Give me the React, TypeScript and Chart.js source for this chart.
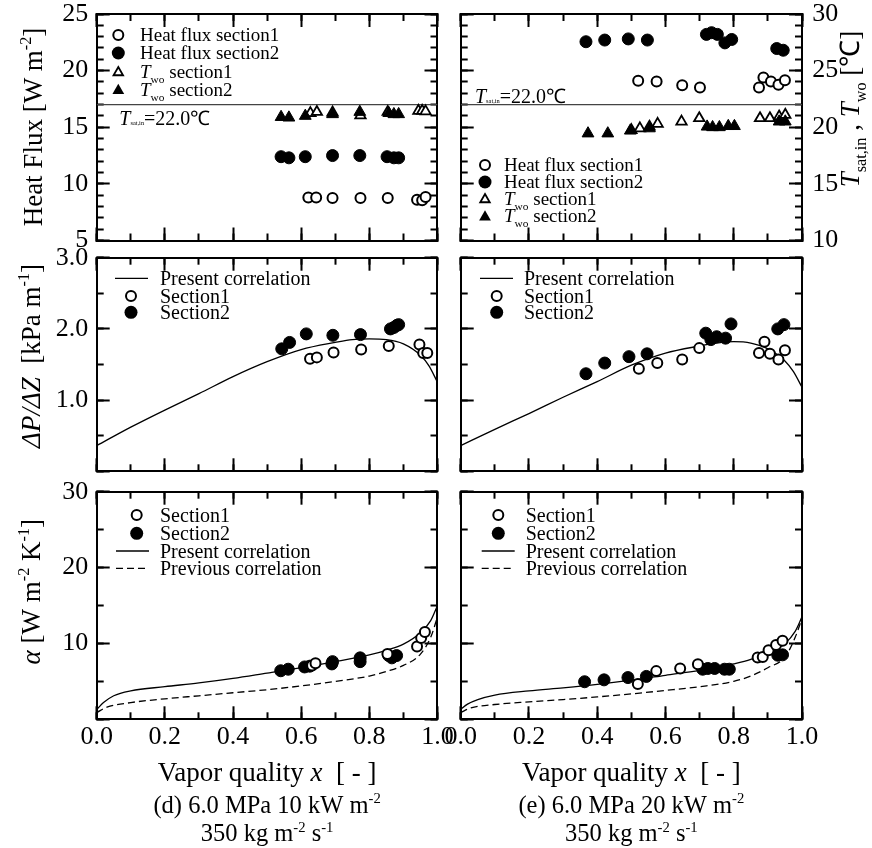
import React, { useEffect, useRef } from "react";
import { Chart, registerables } from "chart.js";

Chart.register(...registerables);

type Pt = [number, number];

const FONT = "'Liberation Serif', 'Times New Roman', Times, serif";
const W = 872;
const H = 848;

/* ---------------- tick labels ---------------- */
const xTickLabels = ["0.0", "0.2", "0.4", "0.6", "0.8", "1.0"];
const heatFluxTickLabels = ["5", "10", "15", "20", "25"];
const tempTickLabels = ["10", "15", "20", "25", "30"];
const dpTickLabels = ["1.0", "2.0", "3.0"];
const alphaTickLabels = ["10", "20", "30"];

const tSatIn = 22.0;

/* ---------------- (d) 6.0 MPa 10 kW m-2 ---------------- */
const dHeatFlux1: Pt[] = [[0.621, 8.8], [0.644, 8.8], [0.692, 8.75], [0.774, 8.75], [0.854, 8.75], [0.94, 8.6], [0.955, 8.55], [0.965, 8.85]];
const dHeatFlux2: Pt[] = [[0.541, 12.4], [0.564, 12.3], [0.612, 12.4], [0.692, 12.5], [0.772, 12.5], [0.852, 12.4], [0.872, 12.3], [0.886, 12.3]];
const dTwo1: Pt[] = [[0.627, 21.25], [0.646, 21.35], [0.692, 21.3], [0.774, 21.05], [0.854, 21.35], [0.944, 21.45], [0.955, 21.45], [0.965, 21.4]];
const dTwo2: Pt[] = [[0.541, 20.9], [0.564, 20.85], [0.612, 21.0], [0.692, 21.15], [0.772, 21.35], [0.857, 21.25], [0.872, 21.15], [0.886, 21.15]];

const dDp1: Pt[] = [[0.626, 1.58], [0.646, 1.6], [0.695, 1.67], [0.776, 1.71], [0.857, 1.76], [0.947, 1.78], [0.958, 1.66], [0.97, 1.66]];
const dDp2: Pt[] = [[0.543, 1.72], [0.566, 1.81], [0.615, 1.93], [0.693, 1.91], [0.774, 1.92], [0.862, 2.0], [0.872, 2.02], [0.881, 2.05], [0.886, 2.06]];
const dDpPresent: Pt[] = [[0, 0.36], [0.1, 0.62], [0.2, 0.86], [0.3, 1.09], [0.4, 1.33], [0.5, 1.54], [0.6, 1.71], [0.7, 1.81], [0.75, 1.85], [0.8, 1.86], [0.85, 1.85], [0.9, 1.79], [0.95, 1.63], [0.975, 1.48], [1.0, 1.25]];

const dAlpha1: Pt[] = [[0.632, 7.1], [0.642, 7.4], [0.853, 8.6], [0.94, 9.6], [0.952, 10.7], [0.963, 11.5]];
const dAlpha2: Pt[] = [[0.54, 6.4], [0.562, 6.6], [0.61, 6.9], [0.625, 7.0], [0.69, 7.3], [0.692, 7.6], [0.773, 7.6], [0.773, 8.1], [0.857, 8.4], [0.866, 8.1], [0.88, 8.4]];
const dAlphaPresent: Pt[] = [[0, 1.3], [0.02, 2.2], [0.05, 3.1], [0.1, 3.75], [0.2, 4.3], [0.3, 4.8], [0.4, 5.4], [0.5, 6.1], [0.6, 6.8], [0.7, 7.6], [0.8, 8.5], [0.85, 9.1], [0.9, 9.9], [0.95, 11.4], [0.98, 13.0], [1.0, 15.0]];
const dAlphaPrevious: Pt[] = [[0, 0.9], [0.03, 1.6], [0.1, 2.2], [0.2, 2.7], [0.3, 3.1], [0.4, 3.5], [0.5, 3.9], [0.6, 4.4], [0.7, 5.0], [0.8, 5.7], [0.85, 6.3], [0.9, 7.1], [0.95, 8.6], [0.98, 10.8], [1.0, 13.5]];

/* ---------------- (e) 6.0 MPa 20 kW m-2 ---------------- */
const eHeatFlux1: Pt[] = [[0.52, 19.1], [0.574, 19.05], [0.649, 18.7], [0.701, 18.5], [0.874, 18.5], [0.887, 19.4], [0.909, 19.05], [0.931, 18.75], [0.95, 19.15]];
const eHeatFlux2: Pt[] = [[0.367, 22.55], [0.422, 22.7], [0.491, 22.8], [0.547, 22.7], [0.72, 23.2], [0.735, 23.35], [0.752, 23.2], [0.774, 22.45], [0.794, 22.75], [0.926, 21.95], [0.945, 21.8]];
const eTwo1: Pt[] = [[0.5, 19.75], [0.525, 19.9], [0.553, 20.05], [0.577, 20.3], [0.647, 20.5], [0.699, 20.8], [0.877, 20.8], [0.906, 20.8], [0.933, 20.95], [0.951, 21.1]];
const eTwo2: Pt[] = [[0.373, 19.45], [0.431, 19.45], [0.497, 19.7], [0.553, 19.9], [0.722, 20.05], [0.738, 20.0], [0.758, 20.0], [0.784, 20.1], [0.802, 20.1], [0.933, 20.5], [0.951, 20.5]];

const eDp1: Pt[] = [[0.522, 1.44], [0.576, 1.52], [0.649, 1.57], [0.699, 1.73], [0.874, 1.66], [0.89, 1.82], [0.906, 1.65], [0.931, 1.57], [0.95, 1.7]];
const eDp2: Pt[] = [[0.367, 1.37], [0.422, 1.52], [0.493, 1.61], [0.546, 1.65], [0.718, 1.94], [0.733, 1.85], [0.75, 1.89], [0.776, 1.87], [0.792, 2.07], [0.929, 2.0], [0.947, 2.06]];
const eDpPresent: Pt[] = [[0, 0.36], [0.1, 0.59], [0.2, 0.81], [0.3, 1.04], [0.4, 1.26], [0.5, 1.49], [0.6, 1.66], [0.7, 1.76], [0.75, 1.8], [0.8, 1.82], [0.85, 1.8], [0.9, 1.72], [0.95, 1.55], [0.975, 1.4], [1.0, 1.18]];

const eAlpha1: Pt[] = [[0.519, 4.65], [0.573, 6.35], [0.643, 6.7], [0.695, 7.25], [0.87, 8.15], [0.885, 8.2], [0.902, 9.1], [0.924, 9.8], [0.943, 10.35]];
const eAlpha2: Pt[] = [[0.363, 4.95], [0.42, 5.2], [0.49, 5.5], [0.544, 5.65], [0.709, 6.6], [0.724, 6.7], [0.744, 6.7], [0.773, 6.6], [0.787, 6.6], [0.929, 8.45], [0.943, 8.5]];
const eAlphaPresent: Pt[] = [[0, 1.3], [0.02, 2.0], [0.05, 2.6], [0.1, 3.2], [0.2, 3.75], [0.3, 4.15], [0.4, 4.6], [0.5, 5.15], [0.6, 5.8], [0.7, 6.45], [0.8, 7.3], [0.85, 7.9], [0.9, 8.9], [0.95, 10.0], [0.98, 11.6], [1.0, 13.5]];
const eAlphaPrevious: Pt[] = [[0, 0.9], [0.03, 1.5], [0.1, 1.95], [0.2, 2.3], [0.3, 2.6], [0.4, 2.95], [0.5, 3.35], [0.6, 3.8], [0.7, 4.3], [0.8, 5.0], [0.85, 5.7], [0.9, 6.8], [0.95, 8.2], [0.98, 10.8], [1.0, 13.3]];

/* ---------------- layout (page pixels) ---------------- */
const COLS = [
  { left: 96.7, right: 437.5 },
  { left: 460.7, right: 802 },
];
const ROWS = [
  { top: 14, bottom: 240.5 },
  { top: 257.7, bottom: 471.3 },
  { top: 491.7, bottom: 719.3 },
];
const LEFT_BOX = 80;
const RIGHT_BOX = 60;
const BOTTOM_BOX = 45;

type Seg = { t: string; it?: boolean; sub?: boolean; sup?: boolean; k?: number; dy?: number };
type RText = { x: number; y: number; size: number; segs: Seg[]; align?: "left" | "center"; rot?: boolean };
type LegendItem = { mk: "oc" | "fc" | "ot" | "ft" | "line" | "dash"; mx: number; my: number; tx: number; size: number; segs: Seg[] };

function drawRich(ctx: CanvasRenderingContext2D, r: RText) {
  ctx.save();
  ctx.translate(r.x, r.y);
  if (r.rot) ctx.rotate(-Math.PI / 2);
  ctx.fillStyle = "#000";
  ctx.textBaseline = "alphabetic";
  ctx.textAlign = "left";
  const parts = r.segs.map((s) => {
    const size = s.sub || s.sup ? r.size * (s.k ?? 0.6) : r.size;
    const font = `${s.it ? "italic " : ""}${size}px ${FONT}`;
    ctx.font = font;
    const dy = s.dy !== undefined ? s.dy : s.sub ? r.size * 0.25 : s.sup ? -r.size * 0.4 : 0;
    return { s, font, w: ctx.measureText(s.t).width, dy };
  });
  const total = parts.reduce((a, p) => a + p.w, 0);
  let x = r.align === "center" ? -total / 2 : 0;
  const base = r.size * 0.33;
  for (const p of parts) {
    ctx.font = p.font;
    ctx.fillText(p.s.t, x, base + p.dy);
    x += p.w;
  }
  ctx.restore();
}

function triPath(ctx: CanvasRenderingContext2D, x: number, y: number, r: number) {
  ctx.beginPath();
  for (let i = 0; i < 3; i++) {
    const a = (i * 2 * Math.PI) / 3;
    const px = x + Math.sin(a) * r;
    const py = y - Math.cos(a) * r;
    if (i === 0) ctx.moveTo(px, py);
    else ctx.lineTo(px, py);
  }
  ctx.closePath();
}

function drawMarker(ctx: CanvasRenderingContext2D, it: LegendItem) {
  const { mx: x, my: y } = it;
  ctx.save();
  ctx.strokeStyle = "#000";
  ctx.fillStyle = "#000";
  if (it.mk === "oc") {
    ctx.lineWidth = 2;
    ctx.beginPath();
    ctx.arc(x, y, 5, 0, Math.PI * 2);
    ctx.fillStyle = "#fff";
    ctx.fill();
    ctx.stroke();
  } else if (it.mk === "fc") {
    ctx.beginPath();
    ctx.arc(x, y, 6.5, 0, Math.PI * 2);
    ctx.fill();
  } else if (it.mk === "ot") {
    ctx.lineWidth = 1.8;
    triPath(ctx, x, y + 1, 5.5);
    ctx.fillStyle = "#fff";
    ctx.fill();
    ctx.stroke();
  } else if (it.mk === "ft") {
    triPath(ctx, x, y + 1, 6.8);
    ctx.fill();
  } else {
    ctx.lineWidth = 1.3;
    if (it.mk === "dash") ctx.setLineDash([7, 4]);
    ctx.beginPath();
    ctx.moveTo(x, y);
    ctx.lineTo(x + 33, y);
    ctx.stroke();
  }
  ctx.restore();
  drawRich(ctx, { x: it.tx, y: it.my, size: it.size, segs: it.segs });
}

function labelFor(v: number, labels: string[] | null) {
  if (!labels) return "";
  const f = labels.find((l) => Math.abs(parseFloat(l) - v) < 1e-6);
  return f ?? "";
}

function axis(position: string, min: number, max: number, step: number, tickLen: number, labels: string[] | null, border: boolean, pad: number, boxSize: number, weight: number) {
  return {
    type: "linear",
    position,
    min,
    max,
    weight,
    afterFit: (s: any) => {
      if (s.isHorizontal()) s.height = boxSize;
      else s.width = boxSize;
      s.paddingLeft = 0;
      s.paddingRight = 0;
      s.paddingTop = 0;
      s.paddingBottom = 0;
    },
    ticks: {
      stepSize: step,
      autoSkip: false,
      maxRotation: 0,
      minRotation: 0,
      display: !!labels,
      padding: pad,
      color: "#000",
      font: { family: FONT, size: 26 },
      callback: (v: any) => labelFor(Number(v), labels),
    },
    grid: {
      display: true,
      drawOnChartArea: false,
      drawTicks: true,
      tickLength: -tickLen,
      tickWidth: 2,
      tickColor: "#000",
    },
    border: { display: border, color: "#000", width: 2 },
  };
}

type AxisSpec = { min: number; max: number; major: number; minor: number; labels: string[] | null };

type PanelDef = {
  col: number;
  row: number;
  datasets: any[];
  yLeft: AxisSpec;
  yRight: AxisSpec;
  xLabels: boolean;
  texts: RText[];
  legend: LegendItem[];
};

const openCircle = { pointStyle: "circle", pointRadius: 5, pointBorderWidth: 2, pointBackgroundColor: "#fff", pointBorderColor: "#000" };
const filledCircle = { pointStyle: "circle", pointRadius: 6, pointBorderWidth: 1, pointBackgroundColor: "#000", pointBorderColor: "#000" };
const openTri = { pointStyle: "triangle", pointRadius: 6, pointBorderWidth: 1.8, pointBackgroundColor: "#fff", pointBorderColor: "#000" };
const filledTri = { pointStyle: "triangle", pointRadius: 6.8, pointBorderWidth: 1, pointBackgroundColor: "#000", pointBorderColor: "#000" };

const toXY = (p: Pt[]) => p.map(([x, y]) => ({ x, y }));

function scatterDs(label: string, pts: Pt[], style: any, yAxisID: string, order: number) {
  return { label, data: toXY(pts), yAxisID, order, showLine: false, ...style };
}
function lineDs(label: string, pts: Pt[], yAxisID: string, order: number, dash: number[] = [], color = "#000", width = 1.3) {
  return {
    label,
    data: toXY(pts),
    yAxisID,
    order,
    showLine: true,
    pointRadius: 0,
    borderColor: color,
    borderWidth: width,
    borderDash: dash,
    cubicInterpolationMode: "monotone",
    fill: false,
  };
}

const T_seg = (sub: string): Seg[] => [{ t: "T", it: true }, { t: sub, sub: true }];

function buildPanels(): PanelDef[] {
  const cols = [
    { hf1: dHeatFlux1, hf2: dHeatFlux2, tw1: dTwo1, tw2: dTwo2, dp1: dDp1, dp2: dDp2, dpc: dDpPresent, a1: dAlpha1, a2: dAlpha2, ap: dAlphaPresent, aq: dAlphaPrevious, cap: "(d) 6.0 MPa 10 kW m" },
    { hf1: eHeatFlux1, hf2: eHeatFlux2, tw1: eTwo1, tw2: eTwo2, dp1: eDp1, dp2: eDp2, dpc: eDpPresent, a1: eAlpha1, a2: eAlpha2, ap: eAlphaPresent, aq: eAlphaPrevious, cap: "(e) 6.0 MPa 20 kW m" },
  ];
  const out: PanelDef[] = [];
  cols.forEach((d, c) => {
    const cx = (COLS[c].left + COLS[c].right) / 2;
    const tsat: Pt[] = [[0, tSatIn], [1, tSatIn]];
    const tsatText: Seg[] = [{ t: "T", it: true }, { t: "sat,in", sub: true, k: 0.32, dy: 0 }, { t: `=${tSatIn.toFixed(1)}℃` }];

    // ---- row 0: heat flux / wall temperature ----
    const lg0 = c === 0 ? { mx: 118.3, tx: 140, ys: [35, 53, 71.5, 89.5] } : { mx: 485, tx: 504, ys: [165, 182, 198.5, 216] };
    const texts0: RText[] = [];
    if (c === 0) {
      texts0.push({ x: 33, y: 127, size: 27, rot: true, align: "center", segs: [{ t: "Heat Flux [W m" }, { t: "-2", sup: true }, { t: "]" }] });
      texts0.push({ x: 119.3, y: 118.3, size: 20, segs: tsatText });
    } else {
      texts0.push({ x: 475, y: 96.7, size: 20, segs: tsatText });
      texts0.push({
        x: 850,
        y: 109,
        size: 27,
        rot: true,
        align: "center",
        segs: [...T_seg("sat,in"), { t: " , " }, ...T_seg("wo"), { t: " [℃]" }],
      });
    }
    out.push({
      col: c,
      row: 0,
      datasets: [
        lineDs("Tsat,in", tsat, "yr", 5, [], "#444", 1.1),
        scatterDs("Heat flux section1", d.hf1, openCircle, "y", 2),
        scatterDs("Heat flux section2", d.hf2, filledCircle, "y", 1),
        scatterDs("Two section1", d.tw1, openTri, "yr", 2),
        scatterDs("Two section2", d.tw2, filledTri, "yr", 1),
      ],
      yLeft: { min: 5, max: 25, major: 5, minor: 1, labels: c === 0 ? heatFluxTickLabels : null },
      yRight: { min: 10, max: 30, major: 5, minor: 1, labels: c === 1 ? tempTickLabels : null },
      xLabels: false,
      texts: texts0,
      legend: [
        { mk: "oc", mx: lg0.mx, my: lg0.ys[0], tx: lg0.tx, size: 19, segs: [{ t: "Heat flux section1" }] },
        { mk: "fc", mx: lg0.mx, my: lg0.ys[1], tx: lg0.tx, size: 19, segs: [{ t: "Heat flux section2" }] },
        { mk: "ot", mx: lg0.mx, my: lg0.ys[2], tx: lg0.tx, size: 19, segs: [...T_seg("wo"), { t: " section1" }] },
        { mk: "ft", mx: lg0.mx, my: lg0.ys[3], tx: lg0.tx, size: 19, segs: [...T_seg("wo"), { t: " section2" }] },
      ],
    });

    // ---- row 1: pressure drop ----
    const lg1 = c === 0 ? { lx: 115, mx: 131, tx: 160 } : { lx: 480, mx: 496.7, tx: 524 };
    const texts1: RText[] = [];
    if (c === 0) {
      texts1.push({
        x: 31,
        y: 356,
        size: 27,
        rot: true,
        align: "center",
        segs: [{ t: "ΔP/ΔZ", it: true }, { t: "  [kPa m" }, { t: "-1", sup: true }, { t: "]" }],
      });
    }
    out.push({
      col: c,
      row: 1,
      datasets: [
        lineDs("Present correlation", d.dpc, "y", 5),
        scatterDs("Section1", d.dp1, openCircle, "y", 1),
        scatterDs("Section2", d.dp2, filledCircle, "y", 2),
      ],
      yLeft: { min: 0, max: 3, major: 1, minor: 0.5, labels: c === 0 ? dpTickLabels : null },
      yRight: { min: 0, max: 3, major: 1, minor: 0.5, labels: null },
      xLabels: false,
      texts: texts1,
      legend: [
        { mk: "line", mx: lg1.lx, my: 278.3, tx: lg1.tx, size: 20, segs: [{ t: "Present correlation" }] },
        { mk: "oc", mx: lg1.mx, my: 296, tx: lg1.tx, size: 20, segs: [{ t: "Section1" }] },
        { mk: "fc", mx: lg1.mx, my: 312.3, tx: lg1.tx, size: 20, segs: [{ t: "Section2" }] },
      ],
    });

    // ---- row 2: heat transfer coefficient ----
    const lg2 = c === 0 ? { lx: 116, mx: 136.7, tx: 160 } : { lx: 481.7, mx: 498.3, tx: 525.7 };
    const texts2: RText[] = [
      { x: cx, y: 771.7, size: 27, align: "center", segs: [{ t: "Vapor quality " }, { t: "x", it: true }, { t: "  [ - ]" }] },
      { x: cx, y: 805, size: 24.5, align: "center", segs: [{ t: d.cap }, { t: "-2", sup: true }] },
      { x: cx, y: 833.3, size: 24.5, align: "center", segs: [{ t: "350 kg m" }, { t: "-2", sup: true }, { t: " s" }, { t: "-1", sup: true }] },
    ];
    if (c === 0) {
      texts2.push({
        x: 31,
        y: 591.7,
        size: 27,
        rot: true,
        align: "center",
        segs: [{ t: "α", it: true }, { t: " [W m" }, { t: "-2", sup: true }, { t: " K" }, { t: "-1", sup: true }, { t: "]" }],
      });
    }
    out.push({
      col: c,
      row: 2,
      datasets: [
        lineDs("Present correlation", d.ap, "y", 5),
        lineDs("Previous correlation", d.aq, "y", 5, [7, 4]),
        scatterDs("Section1", d.a1, openCircle, "y", 1),
        scatterDs("Section2", d.a2, filledCircle, "y", 2),
      ],
      yLeft: { min: 0, max: 30, major: 10, minor: 5, labels: c === 0 ? alphaTickLabels : null },
      yRight: { min: 0, max: 30, major: 10, minor: 5, labels: null },
      xLabels: true,
      texts: texts2,
      legend: [
        { mk: "oc", mx: lg2.mx, my: 515, tx: lg2.tx, size: 20, segs: [{ t: "Section1" }] },
        { mk: "fc", mx: lg2.mx, my: 533.3, tx: lg2.tx, size: 20, segs: [{ t: "Section2" }] },
        { mk: "line", mx: lg2.lx, my: 551, tx: lg2.tx, size: 20, segs: [{ t: "Present correlation" }] },
        { mk: "dash", mx: lg2.lx, my: 568.3, tx: lg2.tx, size: 20, segs: [{ t: "Previous correlation" }] },
      ],
    });
  });
  return out;
}

const PANELS = buildPanels();

function buildConfig(p: PanelDef): any {
  const c = COLS[p.col];
  const r = ROWS[p.row];
  const yl = p.yLeft;
  const yr = p.yRight;
  return {
    type: "scatter",
    data: { datasets: p.datasets },
    options: {
      animation: false,
      responsive: false,
      maintainAspectRatio: false,
      devicePixelRatio: 1,
      events: [],
      layout: {
        autoPadding: false,
        padding: { left: c.left - LEFT_BOX, right: W - c.right - RIGHT_BOX, top: r.top, bottom: H - r.bottom - BOTTOM_BOX },
      },
      plugins: { legend: { display: false }, tooltip: { enabled: false } },
      scales: {
        x: axis("bottom", 0, 1, 0.2, 13, p.xLabels ? xTickLabels : null, true, 15, BOTTOM_BOX, 1),
        xm: axis("bottom", 0, 1, 0.1, 7, null, false, 0, 0, 0),
        xt: axis("top", 0, 1, 0.2, 13, null, true, 0, 0, 1),
        xtm: axis("top", 0, 1, 0.1, 7, null, false, 0, 0, 0),
        y: axis("left", yl.min, yl.max, yl.major, 13, yl.labels, true, 21.4, LEFT_BOX, 1),
        ym: axis("left", yl.min, yl.max, yl.minor, 7, null, false, 0, 0, 0),
        yr: axis("right", yr.min, yr.max, yr.major, 13, yr.labels, true, 23.3, RIGHT_BOX, 1),
        yrm: axis("right", yr.min, yr.max, yr.minor, 7, null, false, 0, 0, 0),
      },
    },
    plugins: [
      {
        id: "annotations",
        afterDraw(chart: any) {
          const ctx = chart.ctx as CanvasRenderingContext2D;
          p.legend.forEach((it) => drawMarker(ctx, it));
          p.texts.forEach((t) => drawRich(ctx, t));
        },
      },
    ],
  };
}

export default function App() {
  const refs = useRef<(HTMLCanvasElement | null)[]>([]);
  useEffect(() => {
    const charts = PANELS.map((p, i) => new Chart(refs.current[i] as HTMLCanvasElement, buildConfig(p)));
    return () => charts.forEach((ch) => ch.destroy());
  }, []);
  return (
    <div style={{ position: "absolute", left: 0, top: 0, width: W, height: H, background: "#fff" }}>
      {PANELS.map((_, i) => (
        <canvas
          key={i}
          ref={(el) => {
            refs.current[i] = el;
          }}
          width={W}
          height={H}
          style={{ position: "absolute", left: 0, top: 0, width: W, height: H }}
        />
      ))}
    </div>
  );
}
